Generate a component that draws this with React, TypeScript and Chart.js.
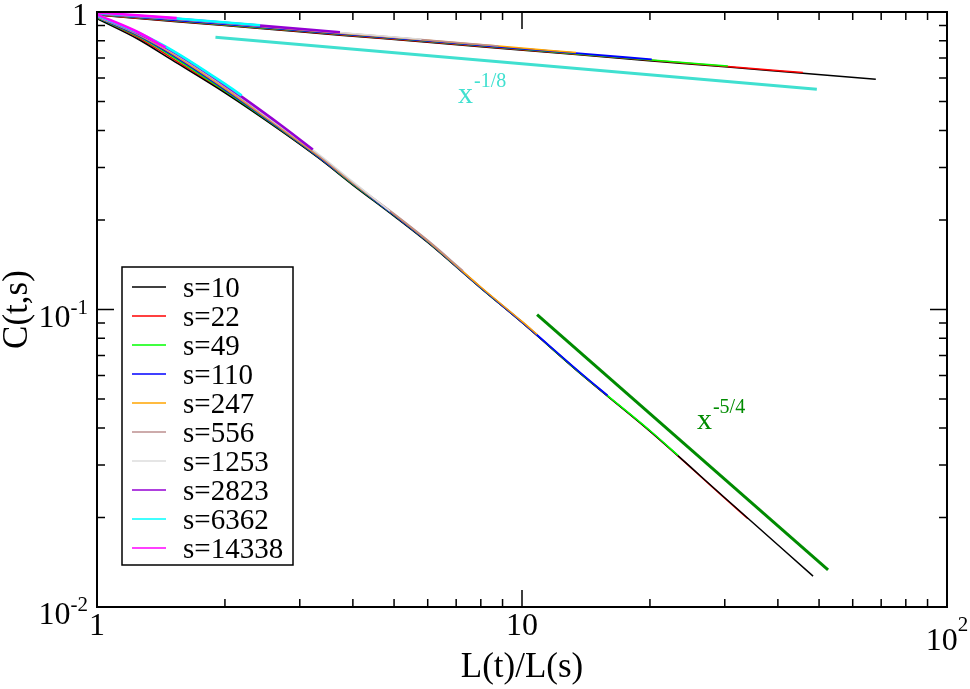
import React, { useEffect, useRef } from 'react'
import Chart from 'chart.js/auto'

const SIZES = [10, 22, 49, 110, 247, 556, 1253, 2823, 6362, 14338]
const COLORS = ['#000000', '#ff0000', '#00ff00', '#0000ff', '#ffa500', '#bc8f8f', '#dcdcdc', '#9400d3', '#00ffff', '#ff00ff']
const WIDTHS = [1.5, 1.5, 1.5, 1.8, 1.5, 1.5, 1.5, 2.6, 2.6, 2.6]

// upper branch: shared x grid, series k uses the first (11 - k) points
const UPPER_X = [1, 1.54, 2.42, 3.73, 5.8, 8.8, 13.4, 20.2, 30.5, 45.8, 68]
const UPPER_Y = [
  [0.977, 0.928, 0.88, 0.836, 0.794, 0.756, 0.719, 0.685, 0.653, 0.622, 0.594],
  [0.979, 0.931, 0.884, 0.839, 0.797, 0.759, 0.722, 0.688, 0.656, 0.626],
  [0.981, 0.934, 0.886, 0.842, 0.8, 0.761, 0.724, 0.69, 0.658],
  [0.983, 0.938, 0.89, 0.845, 0.803, 0.764, 0.727, 0.693],
  [0.985, 0.943, 0.894, 0.849, 0.807, 0.768, 0.731],
  [0.987, 0.945, 0.896, 0.851, 0.808, 0.769],
  [0.989, 0.947, 0.898, 0.853, 0.81],
  [0.991, 0.949, 0.9, 0.855],
  [0.993, 0.951, 0.902],
  [0.996, 0.954],
]

// lower branch: shared x grid, last value of each row sits at LOWER_END_X
const LOWER_X = [1, 1.25, 1.5, 2, 2.7, 3.35, 4, 5, 6, 8, 10, 14, 20, 30]
const LOWER_END_X = [48.4, 34, 23.3, 15.9, 10.85, 7.27, 4.89, 3.22, 2.19, 1.45]
const LOWER_Y = [
  [0.95, 0.81, 0.69, 0.535, 0.4, 0.32, 0.262, 0.206, 0.168, 0.118, 0.0904, 0.0594, 0.039, 0.0233, 0.0127],
  [0.954, 0.82, 0.7, 0.539, 0.401, 0.321, 0.263, 0.2072, 0.1688, 0.1181, 0.0905, 0.0595, 0.039, 0.0232, 0.0198],
  [0.957, 0.828, 0.71, 0.543, 0.403, 0.322, 0.264, 0.2075, 0.169, 0.1182, 0.0906, 0.0596, 0.0392, 0.0323],
  [0.96, 0.834, 0.718, 0.548, 0.405, 0.323, 0.265, 0.208, 0.1695, 0.1185, 0.0908, 0.0598, 0.0514],
  [0.963, 0.838, 0.725, 0.553, 0.407, 0.325, 0.266, 0.209, 0.17, 0.119, 0.0912, 0.0825],
  [0.966, 0.842, 0.73, 0.558, 0.41, 0.327, 0.267, 0.21, 0.171, 0.135],
  [0.969, 0.845, 0.735, 0.563, 0.413, 0.33, 0.269, 0.214],
  [0.972, 0.848, 0.74, 0.568, 0.418, 0.345],
  [0.975, 0.852, 0.745, 0.573, 0.524],
  [0.98, 0.855, 0.76],
]

// power-law guides
const GUIDE_18_X = [1.9, 49.4]
const GUIDE_18_Y = [0.823, 0.55]
const GUIDE_54_X = [10.85, 52.5]
const GUIDE_54_Y = [0.0962, 0.01334]

const X_MAJOR = [1, 10, 100]
const X_MINOR = [2, 3, 4, 5, 6, 7, 8, 9, 20, 30, 40, 50, 60, 70, 80, 90]
const Y_MAJOR = [0.01, 0.1, 1]
const Y_MINOR = [0.02, 0.03, 0.04, 0.05, 0.06, 0.07, 0.08, 0.09, 0.2, 0.3, 0.4, 0.5, 0.6, 0.7, 0.8, 0.9]
const X_TICK_LABELS = [['1', ''], ['10', ''], ['10', '2']]
const Y_TICK_LABELS = [['10', '-2'], ['10', '-1'], ['1', '']]

const SERIF = '"Liberation Serif", "Times New Roman", serif'

const decorations = {
  id: 'decorations',
  afterDraw(chart: any) {
    const { ctx, chartArea: a } = chart
    const sx = chart.scales.x
    const sy = chart.scales.y
    ctx.save()

    // frame
    ctx.strokeStyle = '#000'
    ctx.lineWidth = 2
    ctx.strokeRect(a.left, a.top, a.right - a.left, a.bottom - a.top)

    // inward ticks on all four sides
    ctx.lineWidth = 1.5
    ctx.beginPath()
    const xt = (v: number, len: number) => {
      const p = sx.getPixelForValue(v)
      ctx.moveTo(p, a.bottom); ctx.lineTo(p, a.bottom - len)
      ctx.moveTo(p, a.top); ctx.lineTo(p, a.top + len)
    }
    const yt = (v: number, len: number) => {
      const p = sy.getPixelForValue(v)
      ctx.moveTo(a.left, p); ctx.lineTo(a.left + len, p)
      ctx.moveTo(a.right, p); ctx.lineTo(a.right - len, p)
    }
    X_MAJOR.forEach(v => xt(v, 17))
    X_MINOR.forEach(v => xt(v, 8))
    Y_MAJOR.forEach(v => yt(v, 17))
    Y_MINOR.forEach(v => yt(v, 8))
    ctx.stroke()

    // tick labels
    ctx.fillStyle = '#000'
    ctx.textBaseline = 'alphabetic'
    const big = `32px ${SERIF}`
    const small = `21px ${SERIF}`
    X_MAJOR.forEach((v, i) => {
      const [base, sup] = X_TICK_LABELS[i]
      const p = sx.getPixelForValue(v)
      ctx.font = big
      const wb = ctx.measureText(base).width
      ctx.font = small
      const ws = sup ? ctx.measureText(sup).width : 0
      const left = p - (wb + ws) / 2
      const baseY = a.bottom + (sup ? 43 : 28)
      ctx.font = big
      ctx.textAlign = 'left'
      ctx.fillText(base, left, baseY)
      if (sup) {
        ctx.font = small
        ctx.fillText(sup, left + wb, baseY - 19)
      }
    })
    Y_MAJOR.forEach((v, i) => {
      const [base, sup] = Y_TICK_LABELS[i]
      const p = sy.getPixelForValue(v)
      const right = a.left - 9
      if (sup) {
        ctx.font = small
        const ws = ctx.measureText(sup).width
        ctx.textAlign = 'left'
        ctx.fillText(sup, right - ws, p + 4)
        ctx.font = big
        ctx.textAlign = 'right'
        ctx.fillText(base, right - ws, p + 17)
      } else {
        ctx.font = big
        ctx.textAlign = 'right'
        ctx.fillText(base, right, p + 13)
      }
    })

    // axis titles
    ctx.font = `35px ${SERIF}`
    ctx.textAlign = 'center'
    ctx.fillText('L(t)/L(s)', (a.left + a.right) / 2, 677)
    ctx.save()
    ctx.translate(27, (a.top + a.bottom) / 2)
    ctx.rotate(-Math.PI / 2)
    ctx.fillText('C(t,s)', 0, 0)
    ctx.restore()

    // power-law labels
    const powerLabel = (xv: number, yv: number, sup: string, color: string) => {
      const px = sx.getPixelForValue(xv)
      const py = sy.getPixelForValue(yv)
      ctx.fillStyle = color
      ctx.textAlign = 'left'
      ctx.font = `30px ${SERIF}`
      ctx.fillText('x', px, py)
      const w = ctx.measureText('x').width
      ctx.font = `20px ${SERIF}`
      ctx.fillText(sup, px + w + 1, py - 16)
    }
    powerLabel(7.07, 0.494, '-1/8', '#40e0d0')
    powerLabel(25.8, 0.0397, '-5/4', '#008b00')

    // legend box
    const lx = a.left + 25
    const ly = a.top + 255
    ctx.fillStyle = '#fff'
    ctx.fillRect(lx, ly, 171, 298)
    ctx.strokeStyle = '#000'
    ctx.lineWidth = 1.5
    ctx.strokeRect(lx, ly, 171, 298)
    ctx.font = `29px ${SERIF}`
    ctx.textAlign = 'left'
    SIZES.forEach((s, k) => {
      const y = ly + 20 + k * 29
      ctx.strokeStyle = COLORS[k]
      ctx.lineWidth = 1.5
      ctx.beginPath()
      ctx.moveTo(lx + 10, y)
      ctx.lineTo(lx + 44, y)
      ctx.stroke()
      ctx.fillStyle = '#000'
      ctx.fillText(`s=${s}`, lx + 61, y + 10)
    })

    ctx.restore()
  },
}

const App = () => {
  const canvasRef = useRef<HTMLCanvasElement | null>(null)

  useEffect(() => {
    if (!canvasRef.current) return
    const datasets: any[] = []
    const line = (data: { x: number; y: number }[], color: string, width: number, order: number) => ({
      data,
      borderColor: color,
      backgroundColor: color,
      borderWidth: width,
      pointRadius: 0,
      fill: false,
      cubicInterpolationMode: 'monotone',
      order,
    })
    datasets.push(line(GUIDE_18_X.map((x, i) => ({ x, y: GUIDE_18_Y[i] })), '#40e0d0', 3, 0))
    datasets.push(line(GUIDE_54_X.map((x, i) => ({ x, y: GUIDE_54_Y[i] })), '#008b00', 3, 0))
    SIZES.forEach((_, k) => {
      const low = LOWER_Y[k].map((y, i) => ({
        x: i < LOWER_Y[k].length - 1 ? LOWER_X[i] : LOWER_END_X[k],
        y,
      }))
      const up = UPPER_Y[k].map((y, i) => ({ x: UPPER_X[i], y }))
      // bigger s drawn on top; the s=10 tail sits over s=22 as in the plot
      datasets.push(line(low, COLORS[k], WIDTHS[k], k === 0 ? 8.5 : 10 - k))
      datasets.push(line(up, COLORS[k], WIDTHS[k], 10 - k))
    })

    const chart = new Chart(canvasRef.current, {
      type: 'line',
      data: { datasets },
      options: {
        responsive: false,
        animation: false,
        events: [],
        layout: { padding: { left: 97, top: 12, right: 23, bottom: 82 } },
        plugins: {
          legend: { display: false },
          tooltip: { enabled: false },
        },
        scales: {
          x: { type: 'logarithmic', min: 1, max: 100, display: false },
          y: { type: 'logarithmic', min: 0.01, max: 1, display: false },
        },
      },
      plugins: [decorations],
    } as any)

    return () => chart.destroy()
  }, [])

  return (
    <div style={{ position: 'absolute', left: 0, top: 0, width: 970, height: 689, background: '#fff' }}>
      <canvas ref={canvasRef} width={970} height={689} style={{ display: 'block' }} />
    </div>
  )
}

export default App
